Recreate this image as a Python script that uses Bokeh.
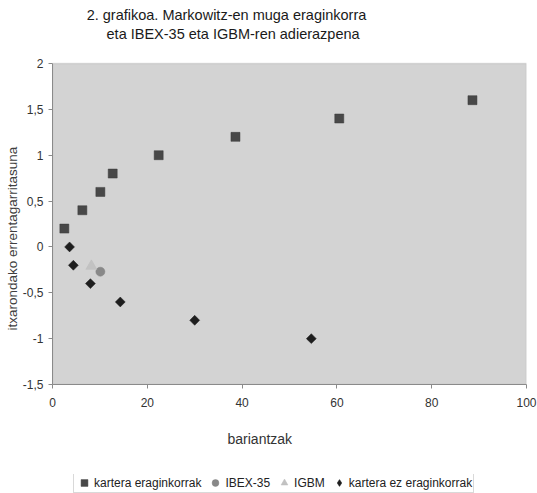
import math
from bokeh.plotting import figure
from bokeh.layouts import column
from bokeh.models import (Range1d, FixedTicker, Legend, LegendItem, Label, Title, BoxAnnotation)
from bokeh.embed import file_html
from bokeh.resources import INLINE

# ---- data ----
title_line1 = "2. grafikoa. Markowitz-en muga eraginkorra"
title_line2 = "eta IBEX-35 eta IGBM-ren adierazpena"
x_title = "bariantzak"
y_title = "itxarondako errentagarritasuna"

eraginkor_x = [2.5, 6.3, 10.1, 12.7, 22.4, 38.6, 60.5, 88.6]
eraginkor_y = [0.2, 0.4, 0.6, 0.8, 1.0, 1.2, 1.4, 1.6]
ez_eraginkor_x = [3.6, 4.4, 8.0, 14.3, 30.0, 54.6]
ez_eraginkor_y = [0.0, -0.2, -0.4, -0.6, -0.8, -1.0]
ibex_x = [10.1]
ibex_y = [-0.27]
igbm_x = [8.2]
igbm_y = [-0.21]

x_min, x_max = 0, 100
y_min, y_max = -1.5, 2.0
x_ticks = [0, 20, 40, 60, 80, 100]
y_ticks = [-1.5, -1.0, -0.5, 0.0, 0.5, 1.0, 1.5, 2.0]
y_tick_labels = ["-1,5", "-1", "-0,5", "0", "0,5", "1", "1,5", "2"]

series_names = ["kartera eraginkorrak", "IBEX-35", "IGBM", "kartera ez eraginkorrak"]
series_x = [eraginkor_x, ibex_x, igbm_x, ez_eraginkor_x]
series_y = [eraginkor_y, ibex_y, igbm_y, ez_eraginkor_y]

FONT = "Liberation Sans"
W = 537
MAIN_H, LEG_H = 474, 19
LEFT, RIGHT, BOTTOM, TOP_GAP = 52, 11, 90, 63

# frame reaches the top of the canvas; the plot area (y_min..y_max) starts TOP_GAP px lower
frame_h = MAIN_H - BOTTOM
y_top = y_max + (y_max - y_min) * TOP_GAP / (frame_h - TOP_GAP)

p = figure(width=W, height=MAIN_H, output_backend="svg", toolbar_location=None,
           x_range=Range1d(x_min, x_max), y_range=Range1d(y_min, y_top),
           min_border_left=LEFT, min_border_right=RIGHT, min_border_top=0,
           min_border_bottom=BOTTOM, title=None)

p.background_fill_color = "white"
p.border_fill_color = "white"
p.outline_line_color = None
p.xgrid.visible = False
p.ygrid.visible = False

p.add_layout(BoxAnnotation(left=x_min, right=x_max, bottom=y_min, top=y_max,
                           fill_color="#d3d3d3", fill_alpha=1.0,
                           line_color="#a0a0a0", line_width=1.5, level="underlay"))

for ax in (p.xaxis[0], p.yaxis[0]):
    ax.axis_line_color = "#8a8a8a"
    ax.major_tick_line_color = "#8a8a8a"
    ax.major_tick_out = 4
    ax.major_tick_in = 0
    ax.minor_tick_line_color = None
    ax.major_label_text_font = FONT
    ax.major_label_text_font_size = "12px"
    ax.major_label_text_color = "#333333"

p.xaxis[0].ticker = FixedTicker(ticks=x_ticks)
p.xaxis[0].major_label_standoff = 9
p.yaxis[0].ticker = FixedTicker(ticks=y_ticks)
p.yaxis[0].major_label_standoff = 5
p.yaxis[0].bounds = (y_min, y_max)
p.yaxis[0].major_label_overrides = {t: l for t, l in zip(y_ticks, y_tick_labels)}

STYLE = [
    dict(marker="square", fill_color="#484848", line_color="#3a3a3a"),
    dict(marker="circle", fill_color="#888888", line_color="#808080"),
    dict(marker="triangle", fill_color="#c2c2c2", line_color="#bdbdbd"),
    dict(marker="diamond", fill_color="#1e1e1e", line_color="#1e1e1e"),
]

p.scatter(eraginkor_x, eraginkor_y, size=9, line_width=0.5, **STYLE[0])
p.scatter(ibex_x, ibex_y, size=9, line_width=0.5, **STYLE[1])
p.scatter(igbm_x, igbm_y, size=11, line_width=0.5, **STYLE[2])
p.scatter(ez_eraginkor_x, ez_eraginkor_y, marker="square", angle=math.pi / 4, size=7,
          fill_color="#1e1e1e", line_color="#1e1e1e", line_width=0.5)

# chart title (two lines above the plot area)
p.add_layout(Label(x=7.2, y=y_max, y_offset=49, text=title_line1, text_align="left",
                   text_baseline="middle", text_font=FONT, text_font_size="14.5px",
                   text_color="#1a1a1a"))
p.add_layout(Label(x=11.4, y=y_max, y_offset=29.5, text=title_line2, text_align="left",
                   text_baseline="middle", text_font=FONT, text_font_size="14.5px",
                   text_color="#1a1a1a"))

# y axis title (left panel, outside the tick labels)
p.add_layout(Title(text=y_title, align="left", offset=54, standoff=0, vertical_align="bottom",
                   text_font=FONT, text_font_size="13.5px", text_font_style="normal",
                   text_color="#404040"), "left")

# x axis title (below panel)
p.add_layout(Title(text=x_title, align="left", offset=175, standoff=42, vertical_align="top",
                   text_font=FONT, text_font_size="14px", text_font_style="normal",
                   text_color="#333333"), "below")

# legend strip under the chart (its series sit outside this strip's visible range)
lg = figure(width=W, height=LEG_H, output_backend="svg", toolbar_location=None,
            x_axis_type=None, y_axis_type=None,
            x_range=Range1d(-2, -1), y_range=Range1d(-5, -4),
            min_border=0, title=None)
lg.outline_line_color = None
lg.xgrid.visible = False
lg.ygrid.visible = False
lg.background_fill_color = "white"
lg.border_fill_color = "white"
legend_renderers = [lg.scatter(sx, sy, size=8, line_width=0.5, **s)
                    for sx, sy, s in zip(series_x, series_y, STYLE)]
legend = Legend(items=[LegendItem(label=n, renderers=[r])
                       for n, r in zip(series_names, legend_renderers)],
                orientation="horizontal", location=(21, 0),
                label_text_font=FONT, label_text_font_size="12px", label_text_color="#222222",
                glyph_width=18, glyph_height=17, label_standoff=1, spacing=5,
                padding=1, margin=0, border_line_color="#b4b4b4",
                background_fill_color="white", background_fill_alpha=1.0)
lg.add_layout(legend, "center")

page = column(p, lg, spacing=0)
open("out.html", "w").write(file_html(page, INLINE))
